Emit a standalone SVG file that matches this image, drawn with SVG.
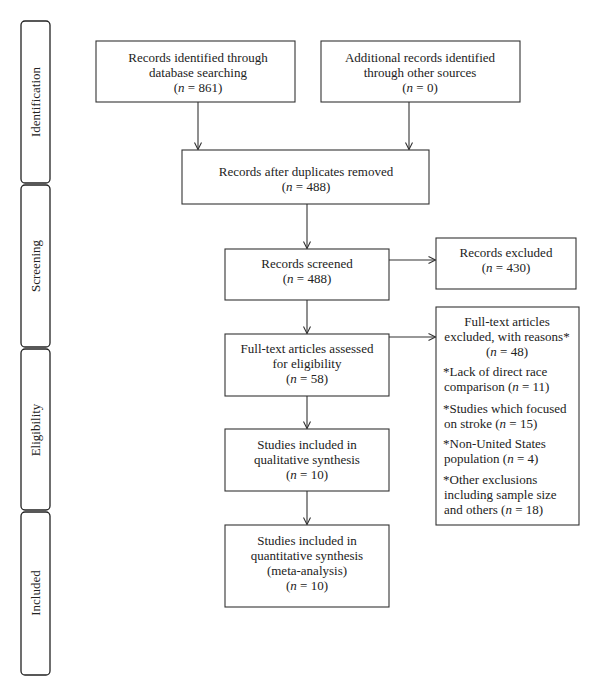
<svg xmlns="http://www.w3.org/2000/svg" width="600" height="696" viewBox="0 0 600 696">
<style>
.box{fill:#fff;stroke:#333;stroke-width:1.1}
.tab{fill:#fff;stroke:#222;stroke-width:1.3}
.t{font-family:"Liberation Serif","Times New Roman",serif;font-size:13px;fill:#222}
.c{text-anchor:middle}
.i{font-style:italic}
.ln{stroke:#333;stroke-width:1.1;fill:none;marker-end:url(#ah)}
</style>
<defs>
<marker id="ah" markerWidth="10" markerHeight="10" refX="8" refY="4" orient="auto" markerUnits="userSpaceOnUse">
<path d="M1,0.5 L8,4 L1,7.5" fill="none" stroke="#333" stroke-width="1.1"/>
</marker>
</defs>
<rect width="600" height="696" fill="#fff"/>
<g id="tabs">
<g id="tab-identification"><rect class="tab" x="21" y="21" width="29" height="162" rx="4"/><text class="t c" transform="translate(40 102) rotate(-90)">Identification</text></g>
<g id="tab-screening"><rect class="tab" x="21" y="185" width="29" height="162" rx="4"/><text class="t c" transform="translate(40 266) rotate(-90)">Screening</text></g>
<g id="tab-eligibility"><rect class="tab" x="21" y="349" width="29" height="161" rx="4"/><text class="t c" transform="translate(40 430) rotate(-90)">Eligibility</text></g>
<g id="tab-included"><rect class="tab" x="21" y="512" width="29" height="163" rx="4"/><text class="t c" transform="translate(40 593) rotate(-90)">Included</text></g>
</g>
<g id="connectors">
<line class="ln" x1="198" y1="102" x2="198" y2="149.5"/>
<line class="ln" x1="409" y1="102" x2="409" y2="149.5"/>
<line class="ln" x1="307" y1="204" x2="307" y2="248.5"/>
<line class="ln" x1="307" y1="300" x2="307" y2="333.5"/>
<line class="ln" x1="307" y1="396" x2="307" y2="428.5"/>
<line class="ln" x1="307" y1="491" x2="307" y2="524.5"/>
<line class="ln" x1="389" y1="260" x2="435.5" y2="260"/>
<line class="ln" x1="389" y1="337" x2="435.5" y2="337"/>
</g>
<g id="n1"><rect class="box" x="96" y="41" width="199" height="61"/>
<text class="t c" x="198" y="62">Records identified through</text>
<text class="t c" x="198" y="77">database searching</text>
<text class="t c" x="198" y="92">(<tspan class="i">n</tspan> = 861)</text></g>
<g id="n2"><rect class="box" x="321" y="41" width="199" height="61"/>
<text class="t c" x="420" y="62">Additional records identified</text>
<text class="t c" x="420" y="77">through other sources</text>
<text class="t c" x="420" y="92">(<tspan class="i">n</tspan> = 0)</text></g>
<g id="n3"><rect class="box" x="182" y="150" width="247" height="54"/>
<text class="t c" x="306" y="176">Records after duplicates removed</text>
<text class="t c" x="306" y="191">(<tspan class="i">n</tspan> = 488)</text></g>
<g id="n4"><rect class="box" x="225" y="249" width="164" height="51"/>
<text class="t c" x="307" y="268">Records screened</text>
<text class="t c" x="307" y="283">(<tspan class="i">n</tspan> = 488)</text></g>
<g id="n5"><rect class="box" x="225" y="334" width="164" height="62"/>
<text class="t c" x="307" y="353">Full-text articles assessed</text>
<text class="t c" x="307" y="368">for eligibility</text>
<text class="t c" x="307" y="383">(<tspan class="i">n</tspan> = 58)</text></g>
<g id="n6"><rect class="box" x="225" y="429" width="164" height="62"/>
<text class="t c" x="307" y="449">Studies included in</text>
<text class="t c" x="307" y="464">qualitative synthesis</text>
<text class="t c" x="307" y="479">(<tspan class="i">n</tspan> = 10)</text></g>
<g id="n7"><rect class="box" x="225" y="525" width="164" height="82"/>
<text class="t c" x="307" y="545">Studies included in</text>
<text class="t c" x="307" y="560">quantitative synthesis</text>
<text class="t c" x="307" y="575">(meta-analysis)</text>
<text class="t c" x="307" y="590">(<tspan class="i">n</tspan> = 10)</text></g>
<g id="n8"><rect class="box" x="436" y="238" width="140" height="51"/>
<text class="t c" x="506" y="257">Records excluded</text>
<text class="t c" x="506" y="272">(<tspan class="i">n</tspan> = 430)</text></g>
<g id="n9"><rect class="box" x="436" y="307" width="143" height="218"/>
<text class="t c" x="507" y="326">Full-text articles</text>
<text class="t c" x="507" y="341">excluded, with reasons*</text>
<text class="t c" x="507" y="356">(<tspan class="i">n</tspan> = 48)</text>
<text class="t" x="443" y="376">*Lack of direct race</text>
<text class="t" x="444" y="391">comparison (<tspan class="i">n</tspan> = 11)</text>
<text class="t" x="443" y="413">*Studies which focused</text>
<text class="t" x="444" y="428">on stroke (<tspan class="i">n</tspan> = 15)</text>
<text class="t" x="443" y="448">*Non-United States</text>
<text class="t" x="444" y="463">population (<tspan class="i">n</tspan> = 4)</text>
<text class="t" x="443" y="484">*Other exclusions</text>
<text class="t" x="444" y="499">including sample size</text>
<text class="t" x="444" y="514">and others (<tspan class="i">n</tspan> = 18)</text></g>
</svg>
